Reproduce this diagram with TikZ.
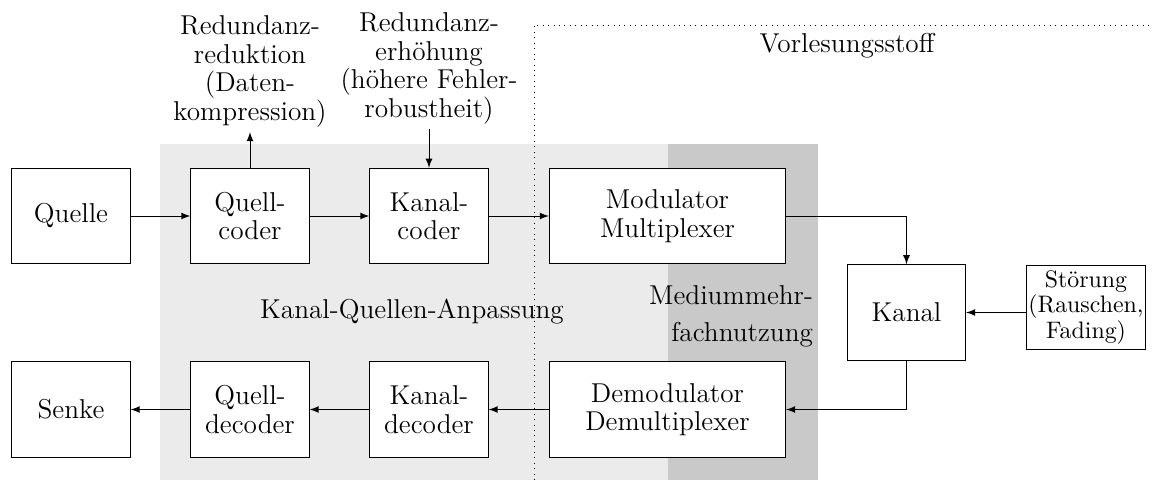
\documentclass[tikz,border=0pt]{standalone}
\usepackage{fontspec}
\usepackage{tikz}
\usetikzlibrary{calc}
\tikzset{>=latex}
\colorlet{hellgrau}{black!8}
\colorlet{dunkelgrau}{black!21}
\tikzset{blk/.style={draw,fill=white,align=center,inner sep=2pt,minimum width=52pt,minimum height=42pt}}
\tikzset{lbl/.style={align=center,inner sep=2pt}}

\begin{document}
\begin{tikzpicture}[x=0.44pt,y=-0.44pt,font=\fontsize{12}{12.5}\selectfont]
                    \useasboundingbox (0,0) rectangle (1153,489);
                    \fill[hellgrau] (160,144) rectangle (818,480);
                    \fill[dunkelgrau] (668,144) rectangle (818,480);
                    \draw[dotted] (534,480) -- (534,25) -- (1153,25);

                    \node at (847,46) {Vorlesungsstoff};
                    \node at (412,312) {Kanal-Quellen-Anpassung};
                    \node[lbl,align=right,anchor=east] at (818,316) {Mediummehr-\\[3.8pt]fachnutzung};

                    \node[blk] (quelle) at (71,216) {Quelle};
                    \node[blk] (qcod) at (250,216) {Quell-\\coder};
                    \node[blk] (kcod) at (429,216) {Kanal-\\coder};
                    \node[blk,minimum width=104pt] (mod) at (667.5,216) {Modulator\\Multiplexer};
                    \node[blk] (kanal) at (906.5,312.5) {Kanal};
                    \node[blk,font=\fontsize{10.5}{9.6}\selectfont,inner xsep=0pt,minimum height=37pt,anchor=north] (stoer) at (1086,265) {Störung\\(Rauschen,\\Fading)};
                    \node[blk,minimum width=104pt] (demod) at (667.5,409.5) {Demodulator\\Demultiplexer};
                    \node[blk] (kdec) at (429,409.5) {Kanal-\\decoder};
                    \node[blk] (qdec) at (250,409.5) {Quell-\\decoder};
                    \node[blk] (senke) at (71,409.5) {Senke};

                    \node[lbl,anchor=south] (red1) at (250,132) {Redundanz-\\reduktion\\(Daten-\\kompression)};
                    \node[lbl,anchor=south] (red2) at (429,129) {Redundanz-\\erhöhung\\(höhere Fehler-\\robustheit)};

                    \draw[->] (quelle) -- (qcod);
                    \draw[->] (qcod) -- (kcod);
                    \draw[->] (kcod) -- (mod);
                    \draw[->] (mod.east) -| (kanal.north);
                    \draw[->] (stoer.west |- kanal.east) -- (kanal.east);
                    \draw[->] (kanal.south) |- (demod.east);
                    \draw[->] (demod) -- (kdec);
                    \draw[->] (kdec) -- (qdec);
                    \draw[->] (qdec) -- (senke);
                    \draw[->] (qcod) -- (red1);
                    \draw[->] (red2) -- (kcod);
                \end{tikzpicture}
\end{document}
